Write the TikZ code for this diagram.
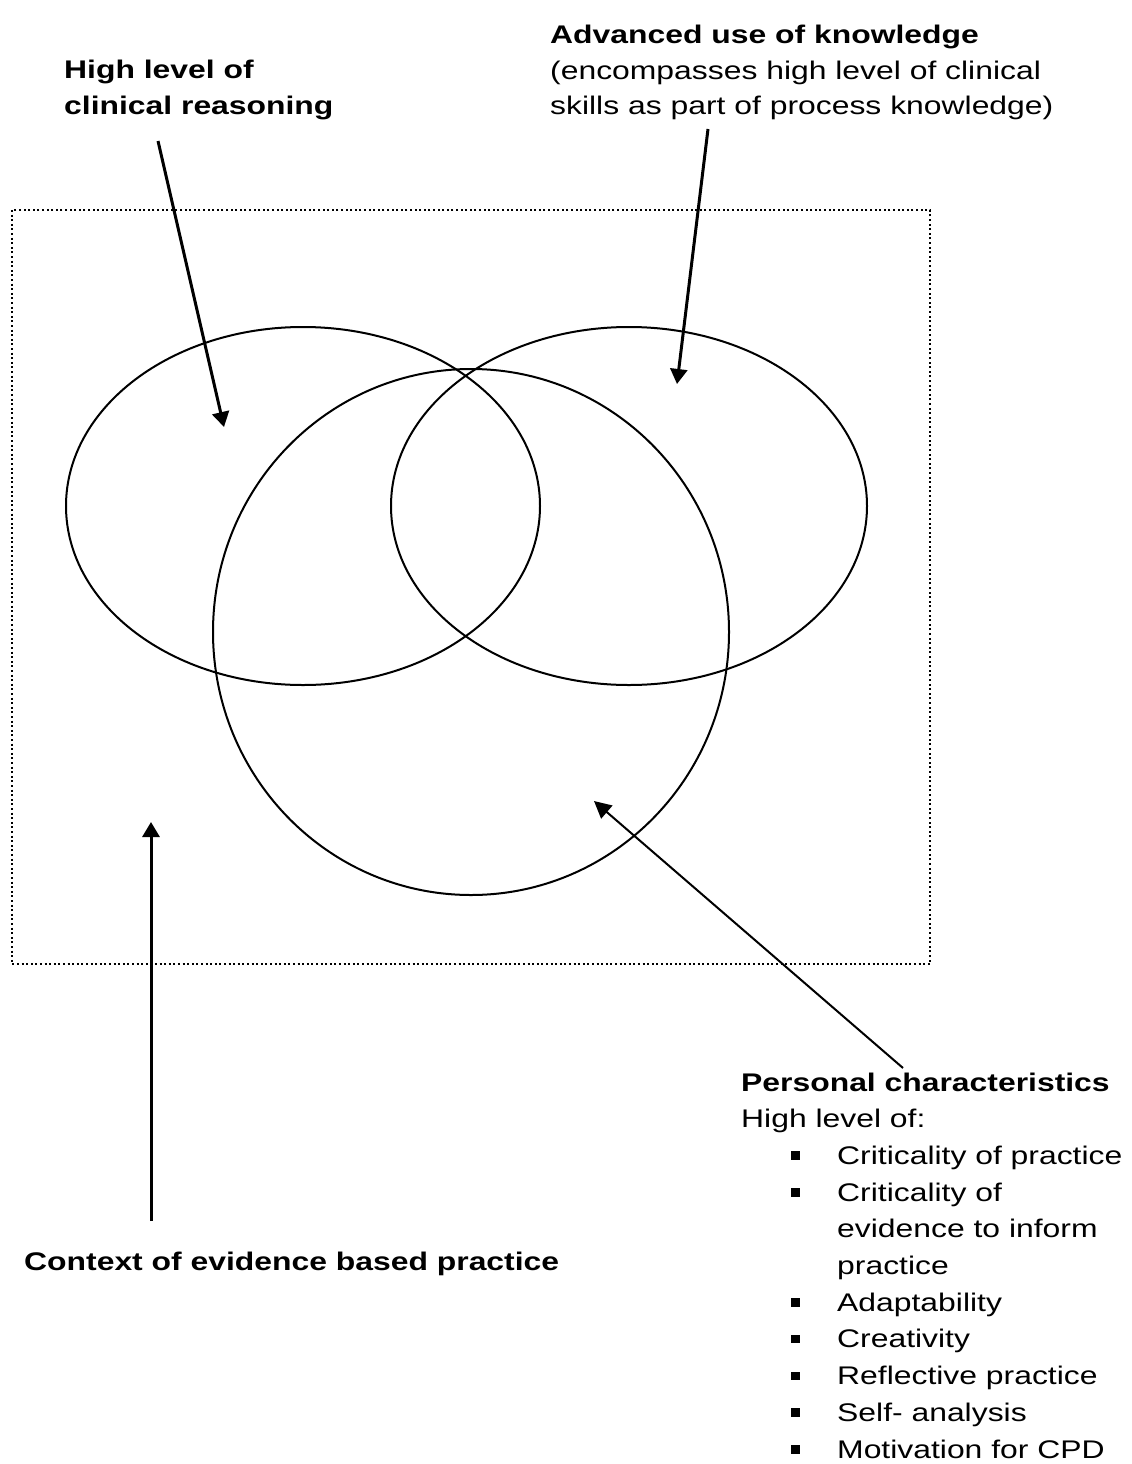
\documentclass[tikz,border=0pt]{standalone}
\usepackage{fontspec}
\setmainfont[FakeStretch=1.25]{Liberation Sans}
\usetikzlibrary{arrows.meta}
% a left-aligned block whose reference point is the baseline of its first line
\newcommand{\stack}[2][36.7pt]{\vtop{\baselineskip=#1\lineskiplimit=-100pt\halign{##\hfil\cr#2\crcr}}}
\newcommand{\sqbullet}{\makebox[96pt][l]{\hspace{50pt}\rule[4.5pt]{8.5pt}{8.5pt}}}
\newcommand{\indentitem}{\hspace*{96pt}}
\begin{document}
\begin{tikzpicture}[x=1pt,y=-1pt,
  label/.style={anchor=base west,inner sep=0pt,font=\fontsize{25.5}{36.7}\selectfont},
  ring/.style={draw=black,line width=2pt},
  pointer/.style={draw=black,line width=3pt,-{Triangle[length=15pt,width=17pt]}},
  thinpointer/.style={draw=black,line width=2pt,-{Triangle[length=17pt,width=17pt]}},
  frame/.style={draw=black,line width=2pt,dash pattern=on 2pt off 2.6pt}]
\useasboundingbox (0,0) rectangle (1132,1464);

% context frame
\draw[frame] (12,210) rectangle (930,964);

% overlapping areas
\draw[ring] (303,506) ellipse [x radius=237,y radius=179];
\draw[ring] (629,506) ellipse [x radius=238,y radius=179];
\draw[ring] (471,632) ellipse [x radius=258,y radius=263];

% labels
\node[label] (reason) at (64,78.5) {\stack[36pt]{\textbf{High level of}\cr\textbf{clinical reasoning}}};
\node[label] (know) at (550,44) {\stack[35.5pt]{\textbf{Advanced use of knowledge}\cr(encompasses high level of clinical\cr skills as part of process knowledge)}};
\node[label] (context) at (24,1270) {\textbf{Context of evidence based practice}};
\node[label] (person) at (741,1091) {\stack{\textbf{Personal characteristics}\cr
High level of:\cr
\sqbullet Criticality of practice\cr
\sqbullet Criticality of\cr
\indentitem evidence to inform\cr
\indentitem practice\cr
\sqbullet Adaptability\cr
\sqbullet Creativity\cr
\sqbullet Reflective practice\cr
\sqbullet Self- analysis\cr
\sqbullet Motivation for CPD}};

% arrow ends
\coordinate (reasonS) at (158,141);
\coordinate (reasonT) at (224,427);
\coordinate (knowS) at (708,129);
\coordinate (knowT) at (677,384);
\coordinate (contextS) at (151,1221);
\coordinate (contextT) at (151,822);
\coordinate (personS) at (903,1068);
\coordinate (personT) at (594,801);

\draw[pointer] (reasonS) -- (reasonT);
\draw[pointer] (knowS) -- (knowT);
\draw[pointer] (contextS) -- (contextT);
\draw[thinpointer] (personS) -- (personT);
\end{tikzpicture}
\end{document}
